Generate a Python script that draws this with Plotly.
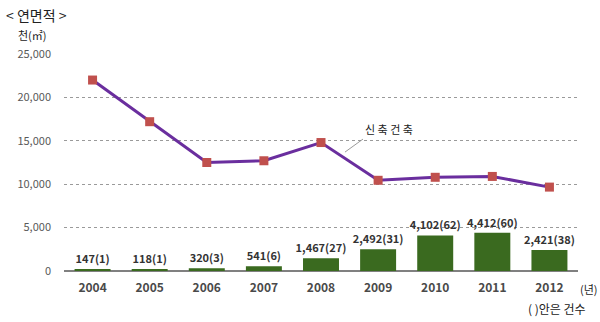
import plotly.graph_objects as go

# Floor area (천 ㎡) by year
years = ["2004", "2005", "2006", "2007", "2008", "2009", "2010", "2011", "2012"]
new_build = [22000, 17200, 12500, 12700, 14800, 10450, 10796, 10894, 9666]
green_area = [147, 118, 320, 541, 1467, 2492, 4102, 4412, 2421]
green_count = [1, 1, 3, 6, 27, 31, 62, 60, 38]

# only the last three line points carry a value label
line_label_years = ["2010", "2011", "2012"]
line_label_shift = [-8, 4, 12]

y_ticks = [0, 5000, 10000, 15000, 20000, 25000]

KR = "Noto Sans CJK KR"

fig = go.Figure()

fig.add_trace(go.Bar(
    x=years,
    y=green_area,
    marker=dict(color="#3a6a1f", line=dict(width=0)),
    text=[f"{a:,}({c})" for a, c in zip(green_area, green_count)],
    textposition="outside",
    constraintext="none",
    cliponaxis=False,
    textfont=dict(family=KR, size=11, color="#333333", weight="bold"),
    width=0.63,
    hoverinfo="skip",
))

fig.add_trace(go.Scatter(
    x=years,
    y=new_build,
    mode="lines+markers",
    line=dict(color="#6a2e9e", width=3),
    marker=dict(symbol="square", size=9, color="#c0504d"),
    cliponaxis=False,
    hoverinfo="skip",
))

for yr, dx in zip(line_label_years, line_label_shift):
    v = new_build[years.index(yr)]
    fig.add_annotation(x=yr, y=v, text=f"{v:,}", showarrow=False,
                       yshift=17, xshift=dx,
                       font=dict(family=KR, size=11, color="#333333", weight="bold"))

# series name callouts with leader lines
fig.add_annotation(x="2007", y=300, ax=-48, ay=-38, text="녹색건축물",
                   showarrow=True, arrowhead=0, arrowwidth=0.8, arrowcolor="#808080",
                   standoff=0, yanchor="bottom",
                   font=dict(family=KR, size=11, color="#222222"))
fig.add_annotation(x=4.42, y=13700, ax=18, ay=-13, text="신 축 건 축",
                   showarrow=True, arrowhead=0, arrowwidth=0.8, arrowcolor="#808080",
                   standoff=0, xanchor="left", yanchor="bottom",
                   font=dict(family=KR, size=11, color="#222222"))

# header and footnotes
fig.add_annotation(xref="paper", yref="paper", x=-60 / 514, y=1 + 39 / 217,
                   text="< 연면적 >", showarrow=False, xanchor="left", yanchor="middle",
                   font=dict(family=KR, size=14, color="#222222"))
fig.add_annotation(xref="paper", yref="paper", x=-48 / 514, y=1 + 19 / 217,
                   text="천(㎡)", showarrow=False, xanchor="left", yanchor="middle",
                   font=dict(family=KR, size=11, color="#222222"))
fig.add_annotation(xref="paper", yref="paper", x=1.0, y=-18 / 217,
                   text="(년)", showarrow=False, xanchor="left", yanchor="middle",
                   font=dict(family=KR, size=11, color="#222222"))
fig.add_annotation(xref="paper", yref="paper", x=1.0 + 10 / 514, y=-37 / 217,
                   text="( )안은 건수", showarrow=False, xanchor="right", yanchor="middle",
                   font=dict(family=KR, size=12, color="#222222"))

fig.update_layout(
    width=600, height=322,
    margin=dict(l=64, r=22, t=54, b=51),
    paper_bgcolor="white", plot_bgcolor="white",
    showlegend=False,
    bargap=0.37,
    font=dict(family=KR),
)
fig.update_xaxes(
    type="category", range=[-0.5, 8.5],
    showgrid=False, showline=False, zeroline=False,
    ticks="", ticklabelstandoff=8,
    tickfont=dict(family=KR, size=12, color="#4a4a4a", weight="bold"),
)
fig.update_yaxes(
    range=[0, 25000], tickvals=y_ticks, tickformat=",d",
    showgrid=True, gridcolor="#9a9a9a", griddash="dot", gridwidth=1,
    zeroline=True, zerolinecolor="#808080", zerolinewidth=1.5,
    showline=False, ticks="", ticklabelstandoff=12,
    tickfont=dict(family=KR, size=11, color="#595959"),
)

fig.write_html("out.html")
